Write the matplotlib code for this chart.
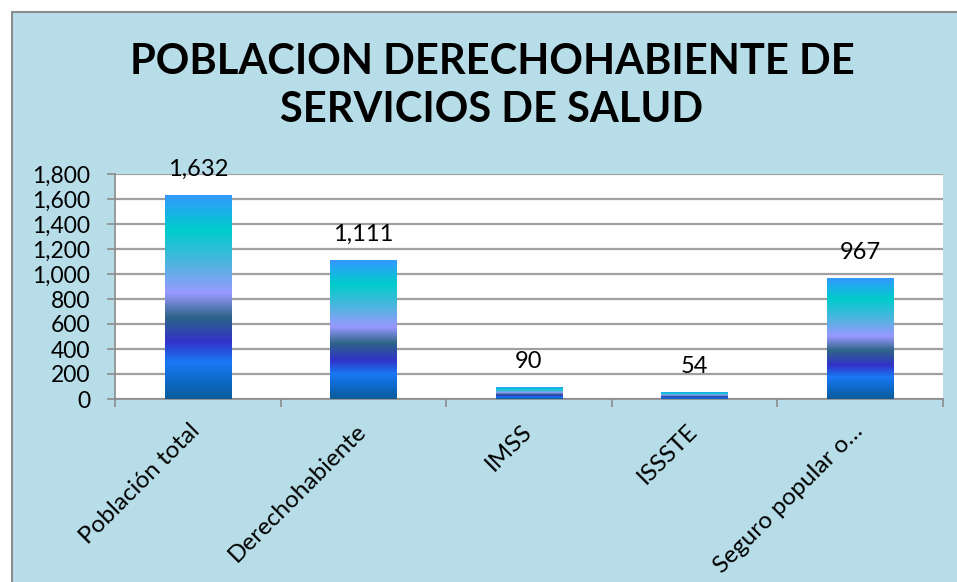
import matplotlib
matplotlib.use('Agg')
import matplotlib.pyplot as plt
import numpy as np
from matplotlib.colors import LinearSegmentedColormap
from matplotlib.patches import Rectangle

categorias = ['Población total', 'Derechohabiente', 'IMSS', 'ISSSTE', 'Seguro popular o…']
valores = [1632, 1111, 90, 54, 967]
etiquetas = ['1,632', '1,111', '90', '54', '967']
yticks = [0, 200, 400, 600, 800, 1000, 1200, 1400, 1600, 1800]

# degradado de las barras (de abajo hacia arriba)
cmap = LinearSegmentedColormap.from_list('barra', [
    (0.0, '#0b5c98'), (0.08, '#0d68c4'), (0.18, '#1a78f5'), (0.28, '#3232c8'),
    (0.40, '#2d6488'), (0.52, '#9999ff'), (0.66, '#50b4e0'), (0.83, '#00cccc'),
    (1.0, '#3399ff')])

plt.rcParams['font.family'] = ['Lato', 'DejaVu Sans']

fig = plt.figure(figsize=(9.57, 5.82), dpi=100)
fig.patch.set_facecolor('white')
fig.patches.append(Rectangle((12/957, -0.1), 1.1, 1.1 - 12/582, transform=fig.transFigure,
                             facecolor='#b7dde8', edgecolor='#8c8c8c', lw=1.5, zorder=-10))

ax = fig.add_axes([115/957, 1 - 399/582, (943 - 115)/957, (399 - 174)/582])
ax.set_facecolor('white')

x = np.arange(len(categorias))
ancho = 0.4
grad = np.linspace(0, 1, 256).reshape(-1, 1)
for xi, v, t in zip(x, valores, etiquetas):
    ax.imshow(grad, extent=[xi - ancho/2, xi + ancho/2, 0, v], aspect='auto',
              cmap=cmap, origin='lower', zorder=3)
    ax.annotate(t, (xi, v), xytext=(0, 11), textcoords='offset points',
                ha='center', va='bottom', fontsize=17, color='black')

ax.set_xlim(-0.5, len(categorias) - 0.5)
ax.set_ylim(0, 1800)
ax.set_yticks(yticks)
ax.set_yticklabels(['{:,}'.format(t) for t in yticks], fontsize=16.5)
ax.yaxis.grid(True, color='#a0a0a0', lw=1.6, zorder=0)
ax.set_axisbelow(True)

ax.set_xticks(np.arange(-0.5, len(categorias), 1))
ax.set_xticklabels([])
ax.tick_params(axis='x', length=6, color='#8c8c8c', direction='out', width=1.2)
ax.tick_params(axis='y', length=6, color='#8c8c8c', direction='out', width=1.2, pad=12)
for xi, c in zip(x, categorias):
    ax.text(xi - 0.05, -170, c, rotation=45, ha='right', va='top',
            rotation_mode='anchor', fontsize=17.5, color='black')

for s in ['top', 'right']:
    ax.spines[s].set_visible(False)
ax.spines['left'].set_color('#8c8c8c')
ax.spines['bottom'].set_color('#8c8c8c')
ax.spines['left'].set_linewidth(1.2)
ax.spines['bottom'].set_linewidth(1.2)

fig.text(492/957, 1 - 62/582, 'POBLACION DERECHOHABIENTE DE', ha='center', va='center',
         fontsize=30, fontweight='bold')
fig.text(492/957, 1 - 110/582, 'SERVICIOS DE SALUD', ha='center', va='center',
         fontsize=30, fontweight='bold')

fig.savefig('out.png', dpi=100)
